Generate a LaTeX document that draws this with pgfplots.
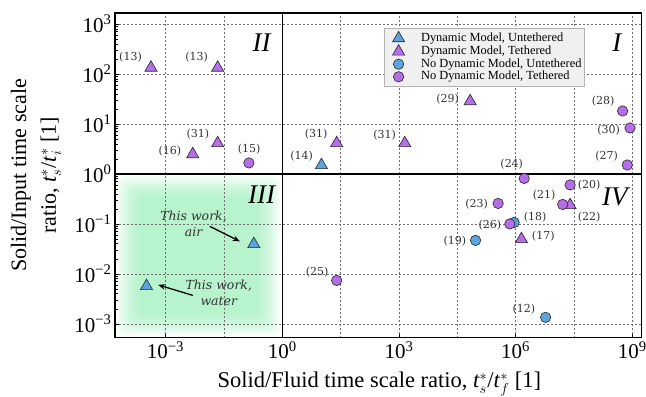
\documentclass[border=0pt]{standalone}
\usepackage{fontspec}
\setmainfont{Liberation Serif}
\newfontfamily\labfont{DejaVu Serif}
\usepackage{pgfplots}
\pgfplotsset{compat=1.18}
\usetikzlibrary{arrows.meta}
\definecolor{blueM}{HTML}{5AA5E0}
\definecolor{purM}{HTML}{B56DE8}
\definecolor{mint}{RGB}{135,235,172}
\definecolor{gridc}{RGB}{110,110,110}
\definecolor{labc}{RGB}{50,50,50}
\newcommand{\legfont}{\fontsize{12.4}{13}\selectfont}
\pgfplotsset{
  myleg/.style={legend image code/.code={\path[draw=none,fill=none] (0pt,0pt) (34pt,0pt); \draw[mark repeat=2,mark phase=2,##1] plot coordinates {(0pt,0pt) (12pt,0pt) (34pt,0pt)};}},
  every axis legend/.append style={
    at={(0.5104,0.9538)}, anchor=north west,
    fill=white!94!black, draw=gray!60, line width=0.6pt,
    font=\legfont, row sep=0pt, inner xsep=2.5pt, inner ysep=3pt,
    nodes={inner sep=0.5pt, text height=8.7pt, text depth=2.9pt, font=\legfont},
    cells={anchor=west}}}
\begin{document}
\begin{tikzpicture}
\begin{axis}[
  set layers,
  scale only axis, width=527pt, height=325pt,
  xmode=log, ymode=log,
  xmin=5.01e-5, xmax=1.74e9, ymin=5.25e-4, ymax=1660,
  xtick={1e-3,1,1e3,1e6,1e9},
  xticklabels={10\textsuperscript{−3},10\textsuperscript{0},10\textsuperscript{3},10\textsuperscript{6},10\textsuperscript{9}},
  ytick={1e-3,1e-2,1e-1,1,10,100,1000},
  yticklabels={10\textsuperscript{−3},10\textsuperscript{−2},10\textsuperscript{−1},10\textsuperscript{0},10\textsuperscript{1},10\textsuperscript{2},10\textsuperscript{3}},
  extra x ticks={0.0316227766,31.6227766,31622.7766,31622776.6},
  extra x tick labels={},
  extra x tick style={grid=major, major tick length=0pt},
  minor tick num=0,
  grid=major,
  major grid style={gridc, dash pattern=on 2pt off 2pt, line width=0.6pt},
  tick align=inside, xtick pos=lower, ytick pos=left,
  major tick length=4pt,
  tick style={black, line width=0.6pt},
  axis line style={line width=1.2pt},
  ticklabel style={font=\fontsize{21}{21}\selectfont},
  xlabel={Solid/Fluid time scale ratio, \textit{t}$^{*}_{s}$/\textit{t}$^{*}_{f}$ [1]},
  ylabel={Solid/Input time scale\\ratio, \textit{t}$^{*}_{s}$/\textit{t}$^{*}_{i}$ [1]},
  xlabel style={at={(axis description cs:0.502,-0.154)}, anchor=base, font=\fontsize{22.5}{25}\selectfont},
  ylabel style={at={(axis description cs:-0.150,0.5)}, anchor=center, align=center, font=\fontsize{22}{30}\selectfont},
]
\begin{pgfonlayer}{axis background}
\pgfplotsinvokeforeach{2,4,6,8,10,12,14,16,18,20,22,24}{
  \fill[mint, opacity=0.075, rounded corners=7pt] ([xshift=#1pt,yshift=#1pt]rel axis cs:0,0) rectangle ([xshift=-#1pt,yshift=-#1pt]axis cs:1,1);
}
\end{pgfonlayer}

\draw[line width=1.2pt] (axis cs:1,5.25e-4) -- (axis cs:1,1660);
\draw[line width=1.2pt] (axis cs:5.01e-5,1) -- (axis cs:1.74e9,1);

% Dynamic Model, Untethered
\addplot[only marks, myleg, mark=triangle*, mark size=7pt, mark options={fill=blueM, draw=black!85, line width=0.6pt}]
coordinates {(10.2,1.50) (0.186,0.0394) (3.24e-4,5.69e-3)};
\addlegendentry{Dynamic Model, Untethered}
% Dynamic Model, Tethered
\addplot[only marks, myleg, mark=triangle*, mark size=7pt, mark options={fill=purM, draw=black!85, line width=0.6pt}]
coordinates {(4.22e-4,133.4) (0.0219,133.4) (0.0219,4.12) (5.01e-3,2.48) (25.1,4.12) (1413,4.12) (67600,28.5) (2.51e7,0.237) (1.41e6,0.0495)};
\addlegendentry{Dynamic Model, Tethered}
% No Dynamic Model, Untethered
\addplot[only marks, myleg, mark=*, mark size=5.2pt, mark options={fill=blueM, draw=black!85, line width=0.6pt}]
coordinates {(9.12e5,0.107) (9.33e4,0.0468) (5.89e6,1.35e-3)};
\addlegendentry{No Dynamic Model, Untethered}
% No Dynamic Model, Tethered
\addplot[only marks, myleg, mark=*, mark size=5.2pt, mark options={fill=purM, draw=black!85, line width=0.6pt}]
coordinates {(0.139,1.66) (5.62e8,18.2) (8.71e8,8.32) (7.41e8,1.51) (1.66e6,0.813) (2.51e7,0.603) (1.62e7,0.245) (3.55e5,0.257) (7.08e5,0.100) (25.1,7.41e-3)};
\addlegendentry{No Dynamic Model, Tethered}

% point labels
\begin{scope}[every node/.style={font=\labfont\fontsize{11}{12}\selectfont, text=labc, inner sep=0pt}]
\node at (axis cs:1.26e-4,214) {(13)};
\node at (axis cs:6.31e-3,214) {(13)};
\node at (axis cs:6.76e-3,6.17) {(31)};
\node at (axis cs:1.29e-3,2.82) {(16)};
\node at (axis cs:0.141,3.16) {(15)};
\node at (axis cs:3.16,2.24) {(14)};
\node at (axis cs:7.41,6.17) {(31)};
\node at (axis cs:427,6.03) {(31)};
\node at (axis cs:17800,31.6) {(29)};
\node at (axis cs:1.78e8,28.8) {(28)};
\node at (axis cs:2.45e8,7.59) {(30)};
\node at (axis cs:2.19e8,2.29) {(27)};
\node at (axis cs:7.94e5,1.55) {(24)};
\node at (axis cs:7.76e7,0.603) {(20)};
\node at (axis cs:5.37e6,0.372) {(21)};
\node at (axis cs:7.76e7,0.135) {(22)};
\node at (axis cs:1e5,0.251) {(23)};
\node at (axis cs:2.19e5,0.0955) {(26)};
\node at (axis cs:3.16e6,0.135) {(18)};
\node at (axis cs:2.75e4,0.0457) {(19)};
\node at (axis cs:5.13e6,0.0562) {(17)};
\node at (axis cs:7.94,0.0107) {(25)};
\node at (axis cs:1.62e6,1.95e-3) {(12)};
\end{scope}

% quadrant labels
\begin{scope}[every node/.style={font=\fontsize{27}{27}\selectfont\itshape}]
\node at (axis cs:0.295,427) {II};
\node at (axis cs:3.98e8,427) {I};
\node at (axis cs:0.295,0.380) {III};
\node at (axis cs:3.55e8,0.355) {IV};
\end{scope}

% annotations
\node[font=\labfont\itshape\fontsize{12.5}{15.3}\selectfont, text=labc, align=center] at (axis cs:5.25e-3,0.1) {This work,\\air};
\node[font=\labfont\itshape\fontsize{12.5}{15.3}\selectfont, text=labc, align=center] at (axis cs:0.0234,4.17e-3) {This work,\\water};
\draw[-{Stealth[length=7pt,width=5.5pt]}, line width=1.3pt] (axis cs:0.0138,0.0891) -- (axis cs:0.0813,0.0447);
\draw[-{Stealth[length=7pt,width=5.5pt]}, line width=1.3pt] (axis cs:5.01e-3,3.72e-3) -- (axis cs:6.46e-4,6.03e-3);
\end{axis}
\pgfresetboundingbox
\path ([shift={(-115pt,-59pt)}]current axis.south west) rectangle ([shift={(4.3pt,13pt)}]current axis.north east);
\end{tikzpicture}
\end{document}
